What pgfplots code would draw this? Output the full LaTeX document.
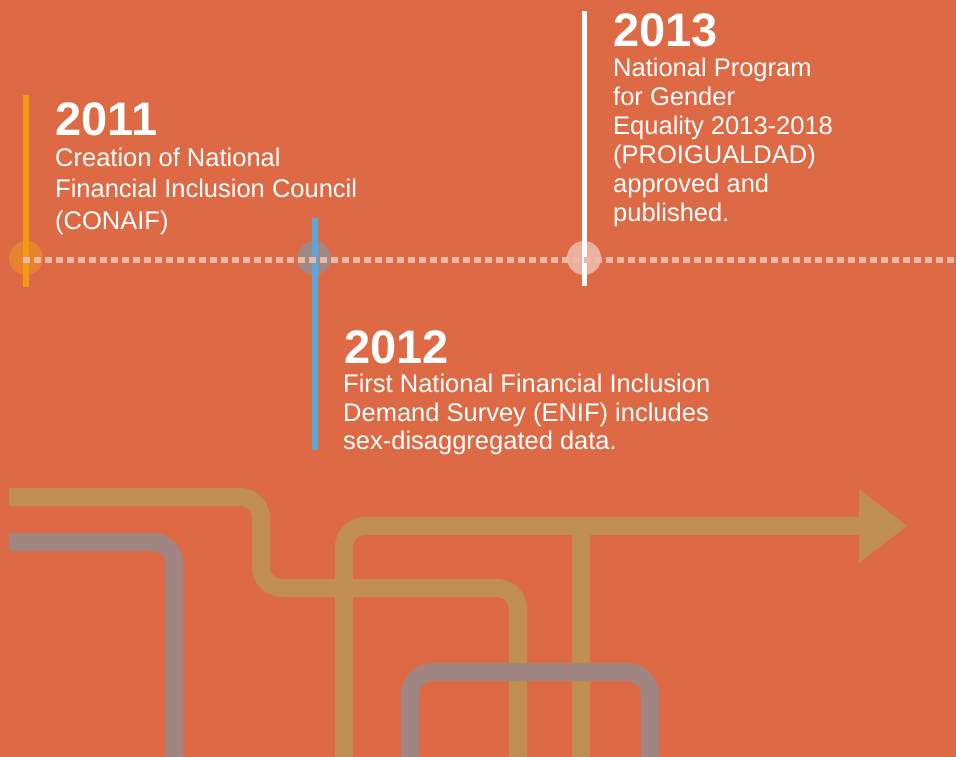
\documentclass[border=0pt]{standalone}
\usepackage{pgfplots}
\pgfplotsset{compat=1.18}
\usepackage{fontspec}
\setmainfont{Liberation Sans}

\definecolor{bg}{HTML}{DE6A45}
\definecolor{gold}{HTML}{C08E50}
\definecolor{pgrey}{HTML}{A08582}
\definecolor{yr11}{HTML}{F29A14}
\definecolor{yr12}{HTML}{5BA7D9}
\definecolor{dot11}{HTML}{E7832F}
\definecolor{dot12}{HTML}{A08884}
\definecolor{dot13}{HTML}{ECB09E}
\definecolor{dashcol}{HTML}{EEB8A6}

\newcommand{\yearfont}{\fontsize{47bp}{50bp}\selectfont\bfseries}
\newcommand{\bodyfont}{\fontsize{25.5bp}{29bp}\selectfont}

\begin{document}
\begin{tikzpicture}
\begin{axis}[
    width=956bp, height=757bp,
    scale only axis,
    xmin=0, xmax=956,
    ymin=0, ymax=757,
    y dir=reverse,
    hide axis,
    clip=true,
]
% background
\addplot[fill=bg, draw=none] coordinates {(0,0) (956,0) (956,757) (0,757) (0,0)};

% pipes
\addplot[gold, line width=18bp, rounded corners=21bp] coordinates {
    (9,497) (261,497) (261,588) (518,588) (518,775)};
\addplot[gold, line width=18bp, rounded corners=21bp] coordinates {
    (344,775) (344,526) (860,526)};
\addplot[fill=gold, draw=none] coordinates {
    (859,489) (907,526) (859,563) (859,489)};
\addplot[gold, line width=18bp] coordinates {(581,526) (581,775)};
\addplot[pgrey, line width=18bp, rounded corners=21bp] coordinates {
    (9,542) (174,542) (174,775)};
\addplot[pgrey, line width=18bp, rounded corners=23bp] coordinates {
    (410,775) (410,672) (650,672) (650,775)};

% timeline markers (round-capped dots, so that lines can pass over them)
\addplot[dot11, line width=34bp, line cap=round] coordinates {(26,258) (26.01,258)};
\addplot[dot12, line width=34bp, line cap=round] coordinates {(314,258) (314.01,258)};
\addplot[dot13, line width=34bp, line cap=round] coordinates {(584,258) (584.01,258)};

\addplot[yr11, line width=5.5bp] coordinates {(26,95) (26,287)};
\addplot[yr12, line width=5.5bp] coordinates {(315,218) (315,450)};
\addplot[white, line width=5bp] coordinates {(584.5,11) (584.5,286)};

\addplot[dashcol, line width=5.5bp, dash pattern=on 7bp off 4bp] coordinates {(23,260) (956,260)};

% texts
\begin{scope}[every node/.style={anchor=base west, inner sep=0pt, text=white}]
\node[font=\yearfont] at (axis cs:55,136) {2011};
\node[font=\bodyfont] at (axis cs:55,167) {Creation of National};
\node[font=\bodyfont] at (axis cs:55,198) {Financial Inclusion Council};
\node[font=\bodyfont] at (axis cs:55,229) {(CONAIF)};

\node[font=\yearfont] at (axis cs:344,363) {2012};
\node[font=\bodyfont] at (axis cs:343,392) {First National Financial Inclusion};
\node[font=\bodyfont] at (axis cs:343,421) {Demand Survey (ENIF) includes};
\node[font=\bodyfont] at (axis cs:343,449) {sex-disaggregated data.};

\node[font=\yearfont] at (axis cs:613,47) {2013};
\node[font=\bodyfont] at (axis cs:613,77) {National Program};
\node[font=\bodyfont] at (axis cs:613,106) {for Gender};
\node[font=\bodyfont] at (axis cs:613,135) {Equality 2013-2018};
\node[font=\bodyfont] at (axis cs:613,164) {(PROIGUALDAD)};
\node[font=\bodyfont] at (axis cs:613,193) {approved and};
\node[font=\bodyfont] at (axis cs:613,221) {published.};
\end{scope}
\end{axis}
\end{tikzpicture}
\end{document}
